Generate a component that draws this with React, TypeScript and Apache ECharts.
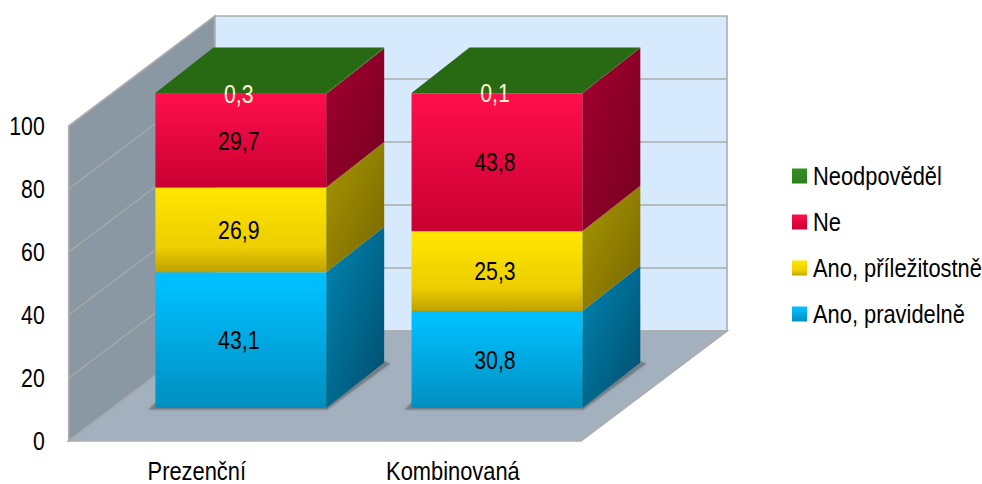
import React, { useEffect, useRef } from "react";
import * as echarts from "echarts";

const categories = ["Prezenční", "Kombinovaná"];
const seriesNames = ["Ano, pravidelně", "Ano, příležitostně", "Ne", "Neodpověděl"];
const pravidelne = [43.1, 30.8];
const prilezitostne = [26.9, 25.3];
const ne = [29.7, 43.8];
const neodpovedel = [0.3, 0.1];
const valueLists = [pravidelne, prilezitostne, ne, neodpovedel];
const yTicks = [0, 20, 40, 60, 80, 100];
const legendOrder = ["Neodpověděl", "Ne", "Ano, příležitostně", "Ano, pravidelně"];

const FONT = "'Liberation Sans', Arial, sans-serif";
const FS = 25;
const WALL_DX = 146;
const WALL_DY = -110;
const BAR_DX = 58;
const BAR_DY = -45.5;
const FRONT_DX = 44;
const FRONT_DY = -33;
const NARROW_WORD = 0.875;
const NARROW_NUM = 0.85;

const lg = (a: number, b: number, c: number, d: number, stops: [number, string][]) =>
  new echarts.graphic.LinearGradient(a, b, c, d, stops.map(([offset, color]) => ({ offset, color })));

const frontFills = [
  lg(0, 0, 0, 1, [[0, "#00BFFF"], [0.12, "#00BDFC"], [1, "#008FBF"]]),
  lg(0, 0, 0, 1, [[0, "#FFE600"], [0.7, "#EDCE00"], [1, "#BFA200"]]),
  lg(0, 0, 0, 1, [[0, "#FF0F4C"], [1, "#C80031"]]),
  lg(0, 0, 0, 1, [[0, "#338F20"], [1, "#2B7F1B"]]),
];
const sideFills = [
  lg(0, 0, 1, 1, [[0, "#0086B3"], [1, "#004C6B"]]),
  lg(0, 0, 1, 1, [[0, "#A89800"], [1, "#776500"]]),
  lg(0, 0, 1, 1, [[0, "#A5002F"], [1, "#74001F"]]),
  lg(0, 0, 1, 1, [[0, "#1F5A0F"], [1, "#1F5A0F"]]),
];
const TOP_FILL = "#276A13";

export default function App() {
  const ref = useRef<HTMLDivElement>(null);
  useEffect(() => {
    if (!ref.current) return;
    const chart = echarts.init(ref.current, undefined, { renderer: "svg" });

    const wallSeries = {
      type: "custom",
      name: "walls",
      silent: true,
      data: [[0, 0]],
      encode: { x: 0, y: 1 },
      renderItem: (params: any) => {
        const g = params.coordSys;
        const l = g.x, r = g.x + g.width, t = g.y, b = g.y + g.height;
        const line = "#ADADAD";
        return {
          type: "group",
          children: [
            { type: "polygon", shape: { points: [[l + WALL_DX, t + WALL_DY], [r + WALL_DX, t + WALL_DY], [r + WALL_DX, b + WALL_DY], [l + WALL_DX, b + WALL_DY]] }, style: { fill: "#D6E9FD", stroke: line, lineWidth: 1.6 } },
            { type: "polygon", shape: { points: [[l, t], [l + WALL_DX, t + WALL_DY], [l + WALL_DX, b + WALL_DY], [l, b]] }, style: { fill: "#8A98A3", stroke: line, lineWidth: 1.6 } },
            { type: "polygon", shape: { points: [[l, b], [r, b], [r + WALL_DX, b + WALL_DY], [l + WALL_DX, b + WALL_DY]] }, style: { fill: "#A3B1BE", stroke: line, lineWidth: 1.6 } },
            { type: "line", shape: { x1: l, y1: b, x2: l + WALL_DX, y2: b + WALL_DY }, style: { stroke: "#9AA8B4", lineWidth: 1 } },
          ],
        };
      },
    };

    const gridSeries = {
      type: "custom",
      name: "gridlines",
      silent: true,
      data: yTicks.slice(1, -1).map((v) => [0, v]),
      encode: { x: 0, y: 1 },
      renderItem: (params: any, api: any) => {
        const g = params.coordSys;
        const y = api.coord([0, api.value(1)])[1];
        const l = g.x, r = g.x + g.width;
        return {
          type: "group",
          children: [
            { type: "line", shape: { x1: l, y1: y, x2: l + WALL_DX, y2: y + WALL_DY }, style: { stroke: "#A9ABAB", lineWidth: 1.2 } },
            { type: "line", shape: { x1: l + WALL_DX, y1: y + WALL_DY, x2: r + WALL_DX, y2: y + WALL_DY }, style: { stroke: "#ABABAB", lineWidth: 1.6 } },
          ],
        };
      },
    };

    const shadowSeries = {
      type: "custom",
      name: "shadows",
      silent: true,
      data: categories.map((_, i) => [i, 0]),
      encode: { x: 0, y: 1 },
      renderItem: (params: any, api: any) => {
        const p = api.coord([api.value(0), 0]);
        const w = (api.size([1, 0])[0] * 2) / 3;
        const x0 = p[0] + FRONT_DX - w / 2, x1 = x0 + w, y = p[1] + FRONT_DY;
        return {
          type: "polygon",
          shape: { points: [[x0 - 7, y + 1.5], [x1 + 1, y + 1.5], [x1 + BAR_DX + 6, y + BAR_DY + 1], [x1 + BAR_DX, y + BAR_DY - 1], [x0, y - 5]] },
          style: { fill: "#6E7882", opacity: 0.7, shadowBlur: 3, shadowColor: "#6E7882" },
        };
      },
    };

    const barSeries = seriesNames.map((name, si) => {
      const values = valueLists[si];
      return {
        type: "custom",
        name,
        itemStyle: { color: frontFills[si] },
        data: values.map((v, i) => {
          let base = 0;
          for (let k = 0; k < si; k++) base += valueLists[k][i];
          return [i, base + v, base, v];
        }),
        encode: { x: 0, y: 1 },
        renderItem: (params: any, api: any) => {
          const i = api.value(0);
          const top = api.coord([i, api.value(1)]);
          const bot = api.coord([i, api.value(2)]);
          const w = (api.size([1, 0])[0] * 2) / 3;
          const x0 = top[0] + FRONT_DX - w / 2;
          const x1 = x0 + w;
          const yT = top[1] + FRONT_DY;
          const yB = bot[1] + FRONT_DY;
          const last = si === seriesNames.length - 1;
          const txt = String(api.value(3)).replace(".", ",");
          const children: any[] = [
            { type: "polygon", shape: { points: [[x1, yT], [x1 + BAR_DX, yT + BAR_DY], [x1 + BAR_DX, yB + BAR_DY], [x1, yB]] }, style: { fill: sideFills[si] } },
            { type: "rect", shape: { x: x0, y: yT, width: w, height: yB - yT }, style: { fill: frontFills[si] } },
          ];
          if (last) {
            children.push({ type: "polygon", shape: { points: [[x0, yT], [x1, yT], [x1 + BAR_DX, yT + BAR_DY], [x0 + BAR_DX, yT + BAR_DY]] }, style: { fill: TOP_FILL } });
          }
          children.push({
            type: "text",
            x: (x0 + x1) / 2 - 2,
            y: (yT + yB) / 2 + 0.5,
            style: { text: txt, fill: last ? "#FFF7CC" : "#000000", fontFamily: FONT, fontSize: FS, textAlign: "center", textVerticalAlign: "middle" },
          });
          return { type: "group", children };
        },
      };
    });

    chart.setOption({
      animation: false,
      backgroundColor: "#FFFFFF",
      grid: { left: 68, top: 126, width: 513, height: 316 },
      xAxis: {
        type: "category",
        data: categories,
        axisLine: { show: false },
        axisTick: { show: false },
        axisLabel: { color: "#000", fontFamily: FONT, fontSize: FS, margin: 18 },
      },
      yAxis: {
        type: "value",
        min: 0,
        max: 100,
        interval: 20,
        axisLine: { show: false },
        axisTick: { show: false },
        splitLine: { show: false },
        axisLabel: { color: "#000", fontFamily: FONT, fontSize: FS, margin: 24 },
      },
      legend: {
        data: legendOrder,
        orient: "vertical",
        left: 792,
        top: 162,
        icon: "rect",
        itemWidth: 15,
        itemHeight: 15,
        itemGap: 18,
        selectedMode: false,
        textStyle: { color: "#000", fontFamily: FONT, fontSize: FS, padding: [0, 0, 0, 1], lineHeight: 28 },
        padding: 0,
      },
      series: [wallSeries, gridSeries, shadowSeries, ...barSeries],
    });

    // The reference's type is a condensed Arial: narrow each text around its own anchor.
    const zr: any = chart.getZr();
    zr.storage.getDisplayList(true, true).forEach((el: any) => {
      if (el.type !== "tspan") return;
      const text = String(el.style.text);
      el.scaleX = /^[\d,]+$/.test(text) ? NARROW_NUM : NARROW_WORD;
      el.originX = el.style.x || 0;
      el.originY = el.style.y || 0;
      el.markRedraw();
    });
    zr.refreshImmediately();

    return () => chart.dispose();
  }, []);
  return <div ref={ref} style={{ position: "fixed", left: 0, top: 0, width: 982, height: 484 }} />;
}
